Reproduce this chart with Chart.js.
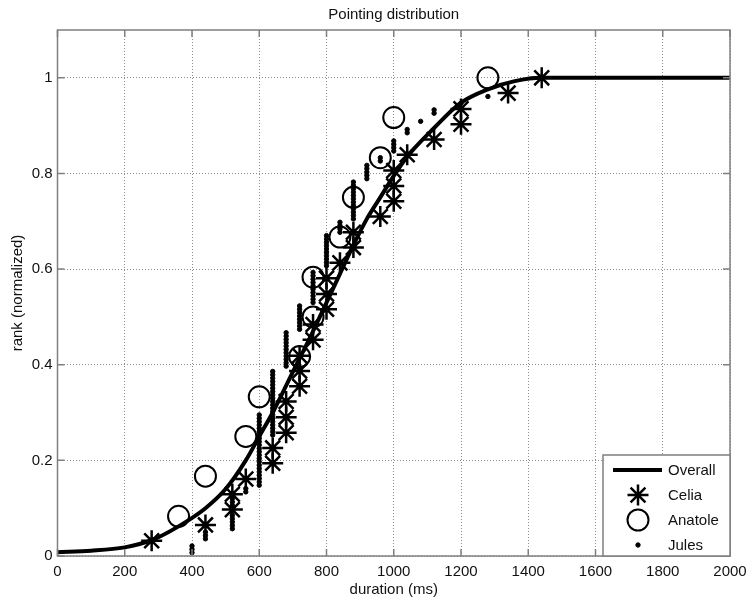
<!DOCTYPE html>
<html>
<head>
<meta charset="utf-8">
<script src="https://cdn.jsdelivr.net/npm/chart.js@4.4.1/dist/chart.umd.min.js"></script>
<style>
  html, body { margin: 0; padding: 0; background: #fff; }
  canvas { display: block; }
</style>
</head>
<body>
<canvas id="myChart" width="747" height="603"></canvas>
<script>
const chartTitle = 'Pointing distribution';
const xLabel = 'duration (ms)';
const yLabel = 'rank (normalized)';
const seriesNames = ['Overall', 'Celia', 'Anatole', 'Jules'];

// fitted curve
const overallDuration = [0, 100, 200, 280, 360, 440, 500, 560, 600, 640, 700, 760, 800, 840, 880, 920, 960, 1000, 1040, 1120, 1200, 1280, 1360, 1440, 1500, 2000];
const overallRank = [0.008, 0.011, 0.018, 0.033, 0.062, 0.1, 0.14, 0.2, 0.25, 0.3, 0.385, 0.47, 0.53, 0.59, 0.65, 0.705, 0.75, 0.795, 0.835, 0.895, 0.948, 0.976, 0.993, 1.0, 1.0, 1.0];

const celiaDuration = [280, 440, 520, 520, 560, 640, 640, 680, 680, 680, 720, 720, 720, 760, 760, 800, 800, 800, 840, 880, 880, 960, 1000, 1000, 1000, 1040, 1120, 1200, 1200, 1340, 1440];
const celiaRank = [0.032, 0.065, 0.097, 0.129, 0.161, 0.194, 0.226, 0.258, 0.290, 0.323, 0.355, 0.387, 0.419, 0.452, 0.484, 0.516, 0.548, 0.581, 0.613, 0.645, 0.677, 0.710, 0.742, 0.774, 0.806, 0.839, 0.871, 0.903, 0.935, 0.968, 1.0];

const anatoleDuration = [360, 440, 560, 600, 720, 760, 760, 840, 880, 960, 1000, 1280];
const anatoleRank = [0.083, 0.167, 0.25, 0.333, 0.417, 0.5, 0.583, 0.667, 0.75, 0.833, 0.917, 1.0];

const julesDuration = [
  400, 400, 400,
  440, 440, 440,
  520, 520, 520, 520, 520, 520, 520, 520, 520, 520, 520,
  560, 560,
  600, 600, 600, 600, 600, 600, 600, 600, 600, 600, 600, 600, 600, 600, 600, 600, 600, 600, 600, 600, 600, 600,
  640, 640, 640, 640, 640, 640, 640, 640, 640, 640, 640, 640, 640, 640, 640, 640, 640, 640, 640, 640,
  680, 680, 680, 680, 680, 680, 680, 680, 680, 680, 680,
  720, 720, 720, 720, 720, 720, 720, 720,
  760, 760, 760, 760, 760, 760, 760, 760, 760, 760,
  800, 800, 800, 800, 800, 800, 800, 800, 800, 800,
  840, 840, 840, 840,
  880, 880, 880, 880, 880, 880, 880, 880, 880, 880, 880, 880,
  920, 920, 920, 920, 920,
  960, 960,
  1000, 1000, 1000, 1000,
  1040, 1040,
  1080,
  1120, 1120,
  1200,
  1280
];
const julesRank = [
  0.007, 0.014, 0.021,
  0.036, 0.043, 0.050,
  0.057, 0.064, 0.071, 0.078, 0.085, 0.092, 0.099, 0.106, 0.113, 0.120, 0.127,
  0.134, 0.141,
  0.148, 0.155, 0.162, 0.169, 0.176, 0.183, 0.190, 0.197, 0.204, 0.211, 0.218, 0.225, 0.232, 0.239, 0.246, 0.253, 0.260, 0.267, 0.274, 0.281, 0.288, 0.295,
  0.253, 0.260, 0.267, 0.274, 0.281, 0.288, 0.295, 0.302, 0.309, 0.316, 0.323, 0.330, 0.337, 0.344, 0.351, 0.358, 0.365, 0.372, 0.379, 0.386,
  0.397, 0.404, 0.411, 0.418, 0.425, 0.432, 0.439, 0.446, 0.453, 0.460, 0.467,
  0.474, 0.481, 0.488, 0.495, 0.502, 0.509, 0.516, 0.523,
  0.530, 0.537, 0.544, 0.551, 0.558, 0.565, 0.572, 0.579, 0.586, 0.593,
  0.607, 0.614, 0.621, 0.628, 0.635, 0.642, 0.649, 0.656, 0.663, 0.670,
  0.677, 0.684, 0.691, 0.698,
  0.705, 0.712, 0.719, 0.726, 0.733, 0.740, 0.747, 0.754, 0.761, 0.768, 0.775, 0.782,
  0.789, 0.796, 0.803, 0.810, 0.817,
  0.826, 0.833,
  0.847, 0.854, 0.861, 0.868,
  0.885, 0.892,
  0.909,
  0.926, 0.933,
  0.947,
  0.961
];

function toPoints(xs, ys) {
  return xs.map((x, i) => ({ x: x, y: ys[i] }));
}

const FONT = 'Liberation Sans, Arial, Helvetica, sans-serif';
Chart.defaults.font.family = FONT;
Chart.defaults.font.size = 15;
Chart.defaults.color = '#111';

// MATLAB-ish box with inward ticks on all four sides
const framePlugin = {
  id: 'frame',
  afterDatasetsDraw(chart) {
    const { ctx, chartArea: { left, right, top, bottom }, scales: { x, y } } = chart;
    const tl = 7;
    ctx.save();
    ctx.strokeStyle = '#7f7f7f';
    ctx.lineWidth = 1.5;
    ctx.beginPath();
    x.ticks.forEach(t => {
      const px = x.getPixelForValue(t.value);
      ctx.moveTo(px, bottom); ctx.lineTo(px, bottom - tl);
      ctx.moveTo(px, top); ctx.lineTo(px, top + tl);
    });
    y.ticks.forEach(t => {
      const py = y.getPixelForValue(t.value);
      ctx.moveTo(left, py); ctx.lineTo(left + tl, py);
      ctx.moveTo(right, py); ctx.lineTo(right - tl, py);
    });
    ctx.stroke();
    ctx.strokeRect(left, top, right - left, bottom - top);
    ctx.restore();
  }
};

// legend box in the lower right corner
const legendPlugin = {
  id: 'boxLegend',
  afterDraw(chart) {
    const { ctx, chartArea: { right, bottom } } = chart;
    const w = 127, h = 101;
    const lx = right - w, ly = bottom - h;
    ctx.save();
    ctx.fillStyle = '#fff';
    ctx.fillRect(lx, ly, w, h);
    ctx.strokeStyle = '#7f7f7f';
    ctx.lineWidth = 1.5;
    ctx.strokeRect(lx, ly, w, h);

    chart.data.datasets.forEach((ds, i) => {
      const cy = ly + 15 + i * 25;
      const cx = lx + 35;
      ctx.strokeStyle = '#000';
      if (ds.showLine) {
        ctx.lineWidth = ds.borderWidth;
        ctx.beginPath();
        ctx.moveTo(lx + 10, cy);
        ctx.lineTo(lx + 59, cy);
        ctx.stroke();
      } else {
        ctx.fillStyle = ds.pointBackgroundColor;
        ctx.lineWidth = ds.pointBorderWidth;
        Chart.helpers.drawPoint(ctx, {
          pointStyle: ds.pointStyle,
          radius: ds.pointRadius,
          borderWidth: ds.pointBorderWidth,
          rotation: 0
        }, cx, cy);
      }
      ctx.fillStyle = '#111';
      ctx.font = '15px ' + FONT;
      ctx.textBaseline = 'middle';
      ctx.textAlign = 'left';
      ctx.fillText(ds.label, lx + 65, cy + 1);
    });
    ctx.restore();
  }
};

const ctx = document.getElementById('myChart').getContext('2d');
const chart = new Chart(ctx, {
  type: 'scatter',
  data: {
    datasets: [
      {
        label: seriesNames[0],
        data: toPoints(overallDuration, overallRank),
        showLine: true,
        borderColor: '#000',
        borderWidth: 4,
        cubicInterpolationMode: 'monotone',
        pointRadius: 0,
        pointHoverRadius: 0
      },
      {
        label: seriesNames[1],
        data: toPoints(celiaDuration, celiaRank),
        showLine: false,
        pointStyle: 'star',
        pointRadius: 10.5,
        pointBorderWidth: 2.5,
        pointBorderColor: '#000',
        pointBackgroundColor: 'rgba(0,0,0,0)'
      },
      {
        label: seriesNames[2],
        data: toPoints(anatoleDuration, anatoleRank),
        showLine: false,
        pointStyle: 'circle',
        pointRadius: 10.5,
        pointBorderWidth: 2,
        pointBorderColor: '#000',
        pointBackgroundColor: 'rgba(0,0,0,0)'
      },
      {
        label: seriesNames[3],
        data: toPoints(julesDuration, julesRank),
        showLine: false,
        pointStyle: 'circle',
        pointRadius: 2.2,
        pointBorderWidth: 1,
        pointBorderColor: '#000',
        pointBackgroundColor: '#000'
      }
    ]
  },
  options: {
    responsive: false,
    animation: false,
    devicePixelRatio: 1,
    layout: { padding: { left: 0, right: 17, top: 0, bottom: 0 } },
    plugins: {
      legend: { display: false },
      tooltip: { enabled: false },
      title: {
        display: true,
        fullSize: false,
        text: chartTitle,
        color: '#111',
        font: { size: 15, weight: 'normal' },
        padding: { top: 6, bottom: 6 }
      }
    },
    scales: {
      x: {
        type: 'linear',
        position: 'bottom',
        min: 0,
        max: 2000,
        ticks: {
          stepSize: 200,
          padding: 7,
          maxRotation: 0,
          autoSkip: false,
          callback: v => String(v)
        },
        grid: { color: '#8c8c8c', lineWidth: 1, drawTicks: false },
        border: { display: false, dash: [1, 2] },
        title: { display: true, text: xLabel, padding: { top: 0, bottom: 4 } },
        afterFit(scale) {
          scale.height = 47;
          // labels at the ends may hang over, the layout padding covers them
          scale.paddingLeft = 0;
          scale.paddingRight = 0;
        }
      },
      y: {
        type: 'linear',
        min: 0,
        max: 1.1,
        ticks: {
          stepSize: 0.2,
          includeBounds: false,
          padding: 5,
          callback: v => String(+v.toFixed(1))
        },
        afterBuildTicks(scale) {
          scale.ticks = scale.ticks.filter(t => t.value <= 1.0001);
        },
        grid: { color: '#8c8c8c', lineWidth: 1, drawTicks: false },
        border: { display: false, dash: [1, 2] },
        title: { display: true, text: yLabel, padding: { top: 9, bottom: 0 } },
        afterFit(scale) { scale.width = 57.5; }
      }
    }
  },
  plugins: [framePlugin, legendPlugin]
});
</script>
</body>
</html>
